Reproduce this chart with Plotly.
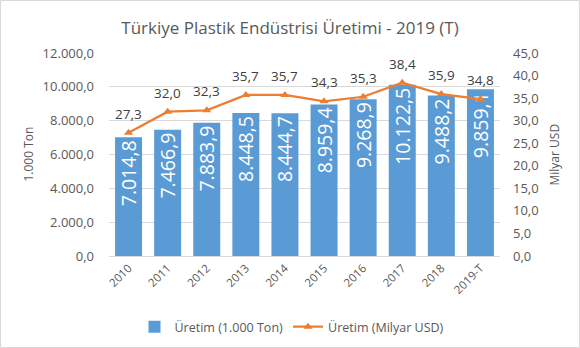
import plotly.graph_objects as go

years = ["2010", "2011", "2012", "2013", "2014", "2015", "2016", "2017", "2018", "2019-T"]
ton = [7014.8, 7466.9, 7883.9, 8448.5, 8444.7, 8959.4, 9268.9, 10122.5, 9488.2, 9859.1]
usd = [27.3, 32.0, 32.3, 35.7, 35.7, 34.3, 35.3, 38.4, 35.9, 34.8]

def tr(v):
    s = f"{v:,.1f}"
    return s.replace(",", "X").replace(".", ",").replace("X", ".")

W, H = 580, 348
L, R, T, B = 109, 80, 53, 92
pw, ph = W - L - R, H - T - B

FONT = "Open Sans"
GRAY = "#595959"

fig = go.Figure()
fig.add_trace(go.Bar(
    x=years, y=ton, name="Üretim (1.000 Ton)",
    marker=dict(color="#5B9BD5", line=dict(width=0)),
    text=[tr(v) for v in ton], textposition="inside", insidetextanchor="end",
    textangle=-90, textfont=dict(color="white", size=19.5, family=FONT),
    cliponaxis=False, hoverinfo="skip",
))
fig.add_trace(go.Scatter(
    x=years, y=usd, name="Üretim (Milyar USD)", yaxis="y2",
    mode="lines+markers",
    line=dict(color="#ED7D31", width=2.25),
    marker=dict(symbol="triangle-up", size=8, color="#ED7D31"),
    cliponaxis=False, hoverinfo="skip",
))

# line value labels (category index positions on the category axis)
for i, v in enumerate(usd):
    fig.add_annotation(x=i, y=v, xref="x", yref="y2", text=tr(v),
                       showarrow=False, yanchor="middle", yshift=19,
                       font=dict(color="#404040", size=13.5, family=FONT))

# axis titles
fig.add_annotation(x=(28 - L) / pw, y=0.5, xref="paper", yref="paper",
                   text="1.000 Ton", textangle=-90, showarrow=False,
                   xanchor="center", yanchor="middle",
                   font=dict(size=12, color=GRAY, family=FONT))
fig.add_annotation(x=(554 - L) / pw, y=0.5, xref="paper", yref="paper",
                   text="Milyar USD", textangle=-90, showarrow=False,
                   xanchor="center", yanchor="middle",
                   font=dict(size=12, color=GRAY, family=FONT))

# outer frame
fig.add_shape(type="rect", xref="paper", yref="paper",
              x0=(0.5 - L) / pw, x1=(W - 0.5 - L) / pw,
              y0=-(B - 0.5) / ph, y1=(H - 0.5 - B) / ph,
              line=dict(color="#D9D9D9", width=1), layer="below")

fig.update_layout(
    width=W, height=H, autosize=False,
    margin=dict(l=L, r=R, t=T, b=B, autoexpand=False),
    paper_bgcolor="white", plot_bgcolor="white",
    separators=",.",
    font=dict(family=FONT, color=GRAY, size=12),
    title=dict(text="Türkiye Plastik Endüstrisi Üretimi - 2019 (T)",
               x=290 / W, xanchor="center", y=1 - 28 / H, yanchor="middle",
               font=dict(size=17, color=GRAY, family=FONT)),
    bargap=0.31,
    uniformtext=dict(minsize=19.5, mode="show"),
    showlegend=True,
    legend=dict(orientation="h", x=(292 - L) / pw, xanchor="center",
                y=-(327 - 256) / ph, yanchor="middle",
                font=dict(size=12.5, color=GRAY),
                traceorder="normal"),
    xaxis=dict(type="category", categoryorder="array", categoryarray=years,
               range=[-0.5, len(years) - 0.5],
               tickangle=-45, tickfont=dict(size=11.5, color=GRAY),
               showline=True, linecolor="#D9D9D9", linewidth=1,
               ticks="", showgrid=False),
    yaxis=dict(range=[0, 12000], dtick=2000, tickformat=",.1f",
               gridcolor="#D9D9D9", gridwidth=1, zeroline=False,
               tickfont=dict(size=13, color=GRAY), ticklabelstandoff=14),
    yaxis2=dict(range=[0, 45], dtick=5, tickformat=".1f", overlaying="y",
                side="right", showgrid=False, zeroline=False,
                tickfont=dict(size=13, color=GRAY), ticklabelstandoff=12),
)

fig.write_html("out.html")
